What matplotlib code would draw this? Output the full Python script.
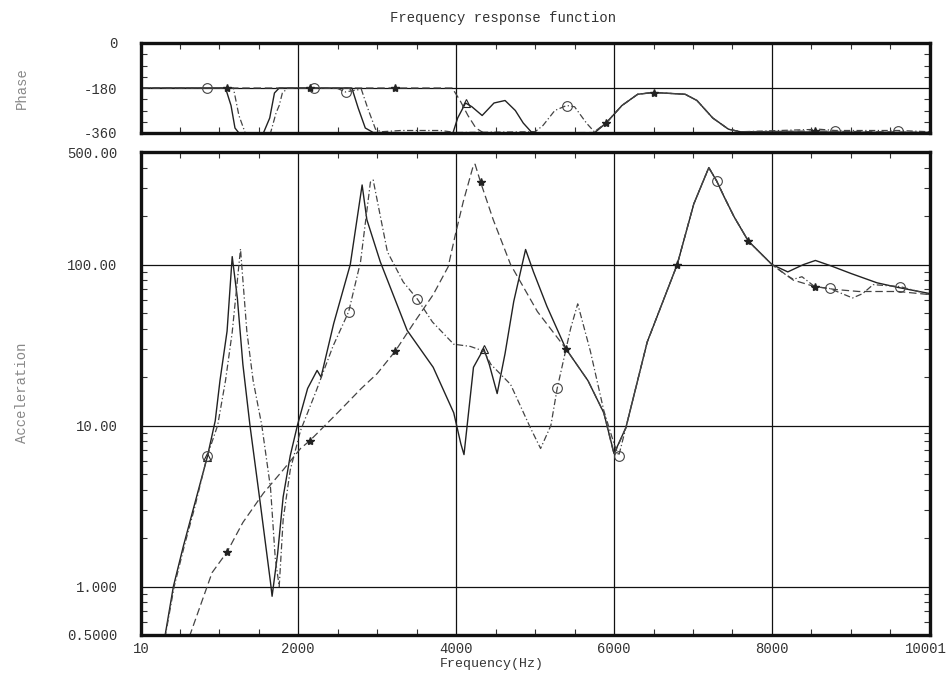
import matplotlib.pyplot as plt
from matplotlib.ticker import FixedLocator, MultipleLocator, NullFormatter
from matplotlib.transforms import ScaledTranslation

# ---- acceleration FRF (Hz, value) ----
freq_a = [280, 316, 420, 545, 670, 850, 950, 1010, 1100, 1165, 1230, 1300, 1390, 1520,
          1650, 1670, 1740, 1810, 1900, 1990, 2120, 2240, 2290, 2450, 2660, 2810, 2870,
          3040, 3380, 3710, 3970, 4060, 4100, 4220, 4350, 4420, 4520, 4620, 4730, 4880,
          4980, 5150, 5390, 5670, 5870, 6000, 6150, 6420, 6800, 7010, 7200, 7300, 7400,
          7520, 7700, 8000, 8200, 8400, 8550, 8750, 9000, 9330, 9600, 10000]
acc_a = [0.40, 0.50, 1.0, 1.77, 3.0, 6.4, 10.7, 19, 38.6, 112, 62, 24, 10, 3.3,
         1.06, 0.87, 1.6, 3.6, 6.5, 10, 17, 22, 20, 43, 100, 312, 190,
         104, 39, 23, 12, 7.7, 6.6, 23, 30, 24, 15.8, 28, 59, 124,
         90, 55, 30, 19, 12, 6.7, 9.7, 33, 100, 238, 400, 330, 260,
         198, 140, 100, 90, 100, 106, 98, 88, 77, 72, 66]

freq_b = [280, 320, 430, 560, 690, 850, 980, 1080, 1165, 1270, 1350, 1430, 1540, 1650,
          1710, 1760, 1810, 1900, 2030, 2220, 2440, 2640, 2790, 2915, 2950, 3130, 3330,
          3510, 3700, 3970, 4180, 4350, 4440, 4690, 4940, 5070, 5200, 5280, 5450, 5540,
          5700, 5870, 6000, 6060, 6150, 6420, 6800, 7010, 7200, 7300, 7400, 7520, 7700,
          8000, 8150, 8270, 8380, 8540, 8730, 9020, 9150, 9280, 9620, 10000]
acc_b = [0.40, 0.50, 1.0, 1.8, 3.1, 6.5, 10, 19, 38, 125, 38.6, 19, 10, 4.1,
         1.5, 1.0, 2.6, 5.3, 9.3, 16, 31, 51, 104, 325, 335, 120, 78,
         61, 44, 32, 31, 29, 24, 18, 9.7, 7.2, 10, 17, 40, 57,
         29, 12.4, 7.7, 6.5, 9.7, 33, 100, 238, 400, 330, 260, 198, 140,
         100, 88, 81, 84, 73, 71, 62, 66, 75, 73, 65]

freq_c = [580, 630, 910, 1100, 1300, 1560, 1810, 2030, 2150, 2500, 2800, 3000, 3230,
          3460, 3710, 3900, 3990, 4090, 4220, 4240, 4310, 4470, 4690, 5030, 5390, 5670,
          5870, 6000, 6150, 6420, 6800, 7010, 7200, 7300, 7400, 7520, 7700, 8000, 8270,
          8540, 8800, 9100, 9600, 10000]
acc_c = [0.42, 0.50, 1.22, 1.64, 2.5, 3.8, 5.3, 7.2, 8.07, 12, 17, 21, 29,
         43, 65, 97, 153, 245, 415, 420, 325, 190, 100, 51, 30, 19,
         12, 6.6, 9.7, 33, 100, 238, 400, 330, 260, 198, 140, 100, 80,
         73, 70, 68, 68, 65]

# ---- phase (Hz, degrees) ----
pfreq_a = [10, 1080, 1150, 1200, 1250, 1560, 1640, 1700, 1760, 2680, 2760, 2850, 2950,
           3960, 4020, 4120, 4200, 4330, 4480, 4620, 4750, 4850, 4950, 5050, 5750, 5900,
           6100, 6300, 6500, 6900, 7050, 7250, 7450, 7600, 10000]
phase_a = [-180, -180, -250, -340, -360, -360, -300, -200, -180, -180, -260, -340, -358,
           -360, -300, -240, -255, -290, -240, -230, -270, -320, -355, -360, -360, -320,
           -250, -205, -198, -205, -230, -300, -345, -355, -358]

pfreq_b = [10, 850, 1180, 1250, 1330, 1650, 1720, 1760, 1800, 1870, 2200, 2500, 2600,
           2700, 2800, 2880, 2980, 3050, 3300, 3800, 4000, 5000, 5100, 5250, 5400, 5500,
           5650, 5750, 5900, 6100, 6300, 6500, 6900, 7050, 7250, 7450, 7600, 8600, 8800,
           9600, 10000]
phase_b = [-180, -180, -180, -290, -360, -360, -280, -250, -200, -180, -180, -182, -196,
           -190, -185, -260, -345, -355, -350, -350, -358, -355, -330, -270, -250, -255,
           -320, -355, -320, -250, -205, -198, -205, -230, -300, -345, -355, -345, -350,
           -350, -355]

pfreq_c = [10, 1100, 2150, 3230, 3950, 4050, 4150, 4250, 4350, 5750, 5900, 6100, 6300,
           6500, 6900, 7050, 7250, 7450, 7600, 8540, 9300, 10000]
phase_c = [-180, -180, -180, -180, -180, -230, -290, -340, -360, -358, -320, -250, -205,
           -198, -205, -230, -300, -345, -355, -352, -355, -358]

xtick_vals = [10, 2000, 4000, 6000, 8000, 10000]
xtick_text = ['10', '2000', '4000', '6000', '8000', '10001']

mono = ['Liberation Mono', 'DejaVu Sans Mono']
plt.rcParams['font.family'] = mono

fig = plt.figure(figsize=(9.49, 6.73), dpi=100)
ax_p = fig.add_axes([141 / 949, 1 - 133 / 673, 789 / 949, 90 / 673])
ax = fig.add_axes([141 / 949, 1 - 635 / 673, 789 / 949, 483 / 673])

# markers: solid = open triangles, dashed = open circles, dash-dot = filled stars
ax.plot(freq_a, acc_a, '-', color='#222222', lw=1.0, marker='^', mfc='none', ms=6,
        mew=0.8, markevery=[5, 34])
ax.plot(freq_b, acc_b, '--', color='#444444', lw=0.9, dashes=(5, 2, 1, 2),
        marker='o', mfc='none', ms=7, mew=0.8, markevery=[5, 21, 27, 37, 43, 49, 58, 62])
ax.plot(freq_c, acc_c, '-.', color='#444444', lw=0.9, dashes=(6, 3),
        marker='*', mfc='#222222', mec='#222222', ms=6, markevery=[3, 8, 12, 20, 24, 30, 36, 39])

ax_p.plot(pfreq_a, phase_a, '-', color='#222222', lw=1.0, marker='^', mfc='none', ms=6,
          mew=0.8, markevery=[15])
ax_p.plot(pfreq_b, phase_b, '--', color='#444444', lw=0.9, dashes=(5, 2, 1, 2),
          marker='o', mfc='none', ms=7, mew=0.8, markevery=[1, 10, 12, 24, 38, 39])
ax_p.plot(pfreq_c, phase_c, '-.', color='#444444', lw=0.9, dashes=(6, 3),
          marker='*', mfc='#222222', mec='#222222', ms=6, markevery=[1, 2, 3, 10, 13, 19])

ax.set_yscale('log')
ax.set_xlim(10, 10001)
ax.set_ylim(0.5, 500)
ax.set_xticks(xtick_vals)
ax.set_xticklabels(xtick_text)
ax.xaxis.set_minor_locator(MultipleLocator(500))
ax.yaxis.set_major_locator(FixedLocator([0.5, 1, 10, 100, 500]))
ax.set_yticklabels(['0.5000', '1.000', '10.00', '100.00', '500.00'])
ax.yaxis.set_minor_formatter(NullFormatter())
ax.grid(True, which='major', color='#111111', lw=0.9)

ax_p.set_xlim(10, 10001)
ax_p.set_ylim(-360, 0)
ax_p.set_yticks([0, -180, -360])
ax_p.set_yticklabels(['0', '-180', '-360'])
ax_p.set_xticks(xtick_vals)
ax_p.set_xticklabels([])
ax_p.xaxis.set_minor_locator(MultipleLocator(500))
ax_p.yaxis.set_minor_locator(MultipleLocator(45))
ax_p.grid(True, which='major', color='#111111', lw=0.9)

for a in (ax, ax_p):
    for s in a.spines.values():
        s.set_linewidth(2.4)
        s.set_color('#111111')
    a.tick_params(which='both', direction='in', top=True, right=True,
                  labelsize=10, labelcolor='#333333', color='#333333')
    a.tick_params(which='major', length=0)
    a.tick_params(axis='y', which='major', pad=17)
    a.tick_params(axis='x', which='major', pad=5)
    a.tick_params(which='minor', length=4, width=0.8)
    a.set_axisbelow(True)

# keep the last x label inside the figure
last = ax.get_xticklabels()[-1]
last.set_horizontalalignment('right')
last.set_transform(last.get_transform() + ScaledTranslation(0.17, 0, fig.dpi_scale_trans))

fig.text(503 / 949, 1 - 18 / 673, 'Frequency response function', ha='center', va='center',
         fontsize=10, color='#333333')
fig.text(22 / 949, 1 - 88 / 673, 'Phase', rotation=90, ha='center', va='center',
         fontsize=10, color='#888888')
fig.text(22 / 949, 1 - 393 / 673, 'Acceleration', rotation=90, ha='center', va='center',
         fontsize=10, color='#888888')
fig.text(492 / 949, 1 - 664 / 673, 'Frequency(Hz)', ha='center', va='center',
         fontsize=9.5, color='#333333')

fig.savefig('out.png', dpi=100, facecolor='white')
